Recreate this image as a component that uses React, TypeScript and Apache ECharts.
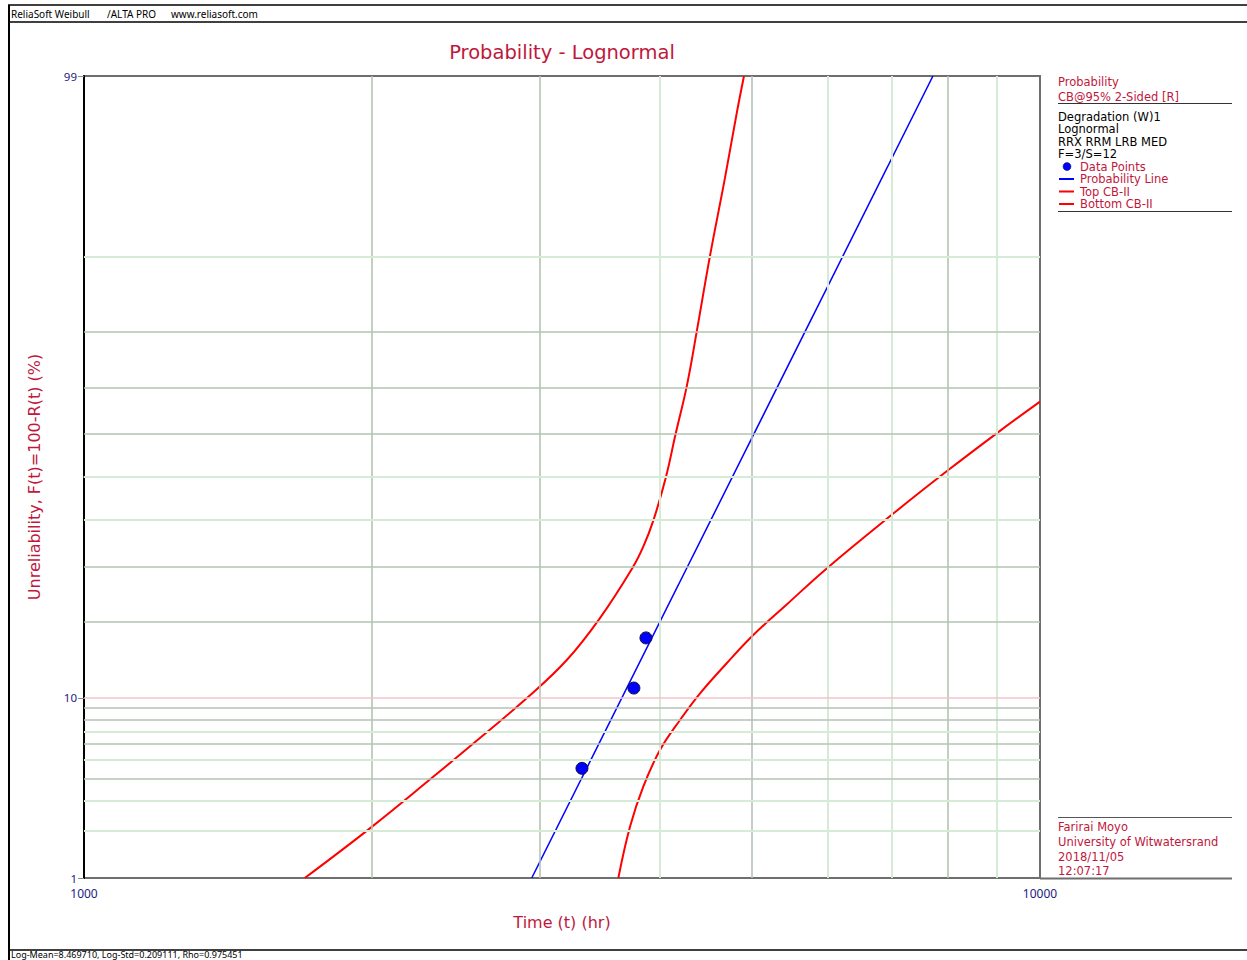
import React, { useEffect, useRef } from "react";
import * as echarts from "echarts";

// ---------- data ----------
const TIME_MIN = 1000;
const TIME_MAX = 10000;
const UNREL_MIN = 1;
const UNREL_MAX = 99;

const Y_TICK_LABELS = [1, 10, 99];
const X_GRID_VALUES = [2000, 3000, 4000, 5000, 6000, 7000, 8000, 9000];
const Y_GRID_VALUES = [2, 3, 4, 5, 6, 7, 8, 9, 10, 20, 30, 40, 50, 60, 70, 80, 90];

const DATA_TIME = [3318, 3760, 3871];
const DATA_UNREL = [4.55, 11.04, 17.53];

const PROB_LINE_TIME = [2940, 7727];
const PROB_LINE_UNREL = [1, 99];

const TOP_CB_TIME = [1702, 2000, 2319, 2554, 2916, 3199, 3465, 3750, 3846, 3940, 4062, 4159, 4270, 4374, 4516, 4682, 4816, 4902];
const TOP_CB_UNREL = [1, 2.12, 4.1, 6.1, 10.12, 14.42, 20.66, 30, 34.3, 40, 50, 60, 70, 80, 90, 95.85, 98.25, 99];

const BOT_CB_TIME = [3622, 3725, 3846, 4004, 4202, 4410, 4702, 5013, 5433, 5983, 7023, 8018, 9009, 10000];
const BOT_CB_UNREL = [1, 2.12, 3.62, 5.66, 7.93, 10.47, 13.99, 17.96, 22.97, 29.8, 41.6, 51.6, 60.0, 66.9];

// ---------- styles (kept apart from data) ----------
const X_GRID_SHADE = ["d", "d", "l", "d", "l", "l", "d", "l"];
const Y_GRID_SHADE = ["l", "l", "d", "l", "d", "l", "d", "d", "p", "d", "d", "l", "l", "d", "d", "d", "l"];
const SHADE_COLOR: Record<string, string> = { d: "#b3c3b3", l: "#d5ebd5", p: "#f2c4c8" };
const SHADE_WIDTH: Record<string, number> = { d: 1.6, l: 2, p: 1.6 };

const CRIMSON = "#c0183c";
const NAVY = "#1c1c80";
const FONT = '"DejaVu Sans", Verdana, sans-serif';
const FONT2 = '"Noto Sans", "DejaVu Sans", sans-serif';

// inverse standard normal (probability-paper scale)
function normInv(p: number): number {
  const a = [-3.969683028665376e1, 2.209460984245205e2, -2.759285104469687e2, 1.38357751867269e2, -3.066479806614716e1, 2.506628277459239];
  const b = [-5.447609879822406e1, 1.615858368580409e2, -1.556989798598866e2, 6.680131188771972e1, -1.328068155288572e1];
  const c = [-7.784894002430293e-3, -3.223964580411365e-1, -2.400758277161838, -2.549732539343734, 4.374664141464968, 2.938163982698783];
  const d = [7.784695709041462e-3, 3.224671290700398e-1, 2.445134137142996, 3.754408661907416];
  const pl = 0.02425;
  const ph = 1 - pl;
  if (p < pl) {
    const q = Math.sqrt(-2 * Math.log(p));
    return (((((c[0] * q + c[1]) * q + c[2]) * q + c[3]) * q + c[4]) * q + c[5]) / ((((d[0] * q + d[1]) * q + d[2]) * q + d[3]) * q + 1);
  }
  if (p <= ph) {
    const q = p - 0.5;
    const r = q * q;
    return ((((((a[0] * r + a[1]) * r + a[2]) * r + a[3]) * r + a[4]) * r + a[5]) * q) / (((((b[0] * r + b[1]) * r + b[2]) * r + b[3]) * r + b[4]) * r + 1);
  }
  const q = Math.sqrt(-2 * Math.log(1 - p));
  return -(((((c[0] * q + c[1]) * q + c[2]) * q + c[3]) * q + c[4]) * q + c[5]) / ((((d[0] * q + d[1]) * q + d[2]) * q + d[3]) * q + 1);
}
const prob = (pct: number) => normInv(pct / 100);
const pairs = (ts: number[], ps: number[]) => ts.map((t, i) => [t, prob(ps[i])]);
const yLabelFor = (v: number) => {
  let best = Y_TICK_LABELS[0];
  let bd = Infinity;
  for (const l of Y_TICK_LABELS) {
    const dd = Math.abs(prob(l) - v);
    if (dd < bd) {
      bd = dd;
      best = l;
    }
  }
  return String(best);
};

export default function App() {
  const ref = useRef<HTMLDivElement>(null);

  useEffect(() => {
    if (!ref.current) return;
    const chart = echarts.init(ref.current, undefined, { renderer: "svg" });

    const txt = (text: string, x: number, y: number, fill: string, size = 11.5, align = "left", family = FONT) => ({
      type: "text",
      x,
      y,
      silent: true,
      style: { text, fill, font: `${size}px ${family}`, textAlign: align, textVerticalAlign: "middle", lineHeight: size + 0.5 },
    });
    const ln = (x1: number, y1: number, x2: number, y2: number, stroke: string, w: number) => ({
      type: "line",
      silent: true,
      shape: { x1, y1, x2, y2 },
      style: { stroke, lineWidth: w },
    });

    const gridMarks = [
      ...X_GRID_VALUES.map((v, i) => ({
        xAxis: v,
        lineStyle: { color: SHADE_COLOR[X_GRID_SHADE[i]], width: SHADE_WIDTH[X_GRID_SHADE[i]], type: "solid" },
      })),
      ...Y_GRID_VALUES.map((v, i) => ({
        yAxis: prob(v),
        lineStyle: { color: SHADE_COLOR[Y_GRID_SHADE[i]], width: SHADE_WIDTH[Y_GRID_SHADE[i]], type: "solid" },
      })),
    ];

    const curveStyle = { color: "#ff0000", width: 2 };

    const option: any = {
      animation: false,
      backgroundColor: "#ffffff",
      textStyle: { fontFamily: FONT },
      grid: {
        left: 84,
        right: 207,
        top: 76,
        bottom: 82,
        outerBoundsMode: "none",
        containLabel: false,
        show: true,
        borderColor: "#6e6e6e",
        borderWidth: 2,
        backgroundColor: "transparent",
      },
      xAxis: {
        type: "log",
        logBase: 10,
        min: TIME_MIN,
        max: TIME_MAX,
        name: "Time (t) (hr)",
        nameLocation: "middle",
        nameGap: 36,
        nameTextStyle: { color: CRIMSON, fontSize: 16, fontFamily: FONT },
        axisLine: { show: true, lineStyle: { color: "#6e6e6e", width: 2 } },
        axisTick: { show: false },
        splitLine: { show: false },
        minorTick: { show: false },
        axisLabel: {
          color: NAVY,
          fontSize: 12,
          lineHeight: 12,
          fontFamily: FONT2,
          margin: 9,
          formatter: (v: number) => String(Math.round(v)),
        },
      },
      yAxis: {
        type: "value",
        min: prob(UNREL_MIN),
        max: prob(UNREL_MAX),
        name: "Unreliability, F(t)=100-R(t) (%)",
        nameLocation: "middle",
        nameGap: 42,
        nameTextStyle: { color: CRIMSON, fontSize: 16, fontFamily: FONT },
        axisLine: { show: true, lineStyle: { color: "#000000", width: 2 } },
        axisTick: {
          show: true,
          length: 6,
          customValues: Y_TICK_LABELS.map(prob),
          lineStyle: { color: "#8a8a8a", width: 1 },
        },
        splitLine: { show: false },
        axisLabel: {
          color: NAVY,
          fontSize: 11.5,
          lineHeight: 10,
          fontFamily: FONT2,
          margin: 7,
          customValues: Y_TICK_LABELS.map(prob),
          formatter: (v: number) => yLabelFor(v),
        },
      },
      series: [
        {
          name: "grid",
          type: "line",
          data: [],
          z: 1,
          silent: true,
          markLine: {
            silent: true,
            symbol: ["none", "none"],
            label: { show: false },
            animation: false,
            data: gridMarks,
          },
        },
        {
          name: "Bottom CB-II",
          type: "line",
          data: pairs(BOT_CB_TIME, BOT_CB_UNREL),
          smooth: 0.4,
          showSymbol: false,
          symbol: "none",
          clip: true,
          z: 3,
          lineStyle: curveStyle,
        },
        {
          name: "Top CB-II",
          type: "line",
          data: pairs(TOP_CB_TIME, TOP_CB_UNREL),
          smooth: 0.4,
          showSymbol: false,
          symbol: "none",
          clip: true,
          z: 3,
          lineStyle: curveStyle,
        },
        {
          name: "Probability Line",
          type: "line",
          data: pairs(PROB_LINE_TIME, PROB_LINE_UNREL),
          showSymbol: false,
          symbol: "none",
          clip: true,
          z: 4,
          lineStyle: { color: "#0000ff", width: 1.5 },
        },
        {
          name: "Data Points",
          type: "scatter",
          data: pairs(DATA_TIME, DATA_UNREL),
          symbol: "circle",
          symbolSize: 12,
          z: 5,
          itemStyle: { color: "#0000ff", borderColor: "#101030", borderWidth: 1, opacity: 1 },
        },
      ],
      graphic: [
        // outer frame
        ln(8, 5, 1247, 5, "#000000", 1.5),
        ln(9, 5, 9, 960, "#000000", 2),
        ln(9, 22, 1247, 22, "#000000", 1.5),
        ln(9, 950, 1247, 950, "#000000", 1.5),
        txt("ReliaSoft Weibull", 11, 14, "#000000", 10, "left", FONT2),
        txt("/ALTA PRO", 107, 14, "#000000", 10, "left", FONT2),
        txt("www.reliasoft.com", 171, 14, "#000000", 10, "left", FONT2),
        txt("Log-Mean=8.469710, Log-Std=0.209111, Rho=0.975451", 11, 954.5, "#000000", 9, "left", FONT2),
        // title
        txt("Probability - Lognormal", 562, 52, CRIMSON, 19.5, "center"),
        // legend block
        txt("Probability", 1058, 81.5, CRIMSON),
        txt("CB@95% 2-Sided [R]", 1058, 96.5, CRIMSON),
        ln(1058, 103.5, 1232, 103.5, "#333333", 1),
        txt("Degradation (W)1", 1058, 116.5, "#000000"),
        txt("Lognormal", 1058, 129, "#000000"),
        txt("RRX RRM LRB MED", 1058, 141.5, "#000000"),
        txt("F=3/S=12", 1058, 154, "#000000"),
        { type: "circle", silent: true, shape: { cx: 1067, cy: 166.5, r: 4 }, style: { fill: "#0000ff", stroke: "#101030", lineWidth: 0.5 } },
        txt("Data Points", 1080, 166.5, CRIMSON),
        ln(1059, 179, 1074, 179, "#0000ff", 2),
        txt("Probability Line", 1080, 179, CRIMSON),
        ln(1059, 191.5, 1074, 191.5, "#ff0000", 2),
        txt("Top CB-II", 1080, 191.5, CRIMSON),
        ln(1059, 204, 1074, 204, "#ff0000", 2),
        txt("Bottom CB-II", 1080, 204, CRIMSON),
        ln(1058, 211.5, 1232, 211.5, "#333333", 1),
        // author block
        ln(1058, 817.5, 1232, 817.5, "#555555", 1),
        txt("Farirai Moyo", 1058, 826.5, CRIMSON),
        txt("University of Witwatersrand", 1058, 841.5, CRIMSON),
        txt("2018/11/05", 1058, 856.5, CRIMSON),
        txt("12:07:17", 1058, 871, CRIMSON),
        ln(1040, 878.5, 1232, 878.5, "#6e6e6e", 2),
      ],
    };

    chart.setOption(option);
    return () => chart.dispose();
  }, []);

  return (
    <div
      ref={ref}
      style={{ position: "fixed", left: 0, top: 0, width: 1247, height: 960, background: "#ffffff" }}
    />
  );
}
